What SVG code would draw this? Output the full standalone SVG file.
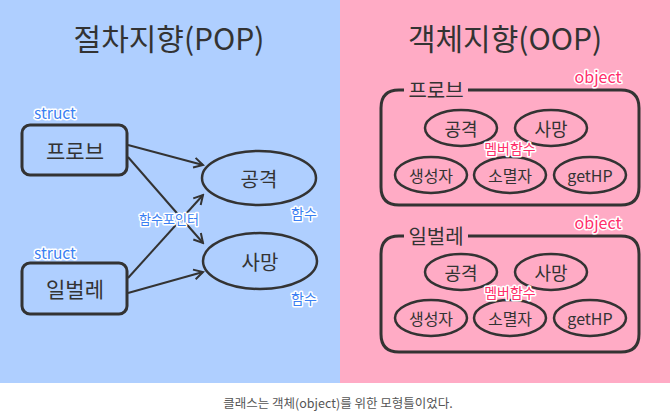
<svg xmlns="http://www.w3.org/2000/svg" width="670" height="414" viewBox="0 0 670 414">
<defs>
<style>
.k{font-family:"Noto Sans CJK KR","Noto Sans",sans-serif;fill:#333;text-anchor:middle;dominant-baseline:central}
.t{font-size:30px}
.bx{fill:none;stroke:#333;stroke-width:3}
.el{fill:none;stroke:#333;stroke-width:2.5}
.ln{fill:none;stroke:#333;stroke-width:2}
.lb{font-family:"Noto Sans CJK KR","Noto Sans",sans-serif;text-anchor:middle;dominant-baseline:central;stroke:#fff;stroke-width:3;paint-order:stroke;stroke-linejoin:round;font-weight:normal}
.bl{fill:#3a7ff2}
.pk{fill:#ff2f6c}
</style>
<marker id="ah" viewBox="0 0 12 12" refX="10" refY="6" markerWidth="12" markerHeight="12" markerUnits="userSpaceOnUse" orient="auto">
<path d="M1,1 L10,6 L1,11" fill="none" stroke="#333" stroke-width="2"/>
</marker>
</defs>
<rect x="0" y="0" width="340" height="383" fill="#afcfff"/>
<rect x="340" y="0" width="330" height="383" fill="#ffabc5"/>
<rect x="0" y="383" width="670" height="31" fill="#fff"/>
<text class="k t" x="169" y="37">절차지향(POP)</text>
<text class="k t" x="505" y="37">객체지향(OOP)</text>
<g id="connectors">
<line class="ln" x1="128" y1="145" x2="203" y2="165" marker-end="url(#ah)"/>
<line class="ln" x1="128" y1="157" x2="203" y2="243" marker-end="url(#ah)"/>
<line class="ln" x1="128" y1="278" x2="203" y2="195" marker-end="url(#ah)"/>
<line class="ln" x1="128" y1="293" x2="203" y2="272" marker-end="url(#ah)"/>
</g>
<g id="probe">
<rect class="bx" x="22" y="125" width="105" height="50" rx="8"/>
<text class="k" x="75" y="150" font-size="21">프로브</text>
<text class="lb bl" x="55" y="112" font-size="15.5">struct</text>
</g>
<g id="ilbeolre">
<rect class="bx" x="22" y="263" width="105" height="51" rx="8"/>
<text class="k" x="75" y="288" font-size="21">일벌레</text>
<text class="lb bl" x="55" y="252" font-size="15.5">struct</text>
</g>
<g id="attack">
<ellipse class="el" cx="259" cy="178" rx="57" ry="27"/>
<text class="k" x="259" y="178" font-size="20">공격</text>
<text class="lb bl" x="304" y="213" font-size="14">함수</text>
</g>
<g id="death">
<ellipse class="el" cx="260" cy="261" rx="57" ry="28"/>
<text class="k" x="260" y="261" font-size="20">사망</text>
<text class="lb bl" x="304" y="298" font-size="14">함수</text>
</g>
<text class="lb bl" x="169" y="218" font-size="13">함수포인터</text>
<g id="obj-probe">
<path class="bx" d="M404,90 L399,90 Q381,90 381,108 L381,187 Q381,205 399,205 L621,205 Q639,205 639,187 L639,108 Q639,90 621,90 L468,90"/>
<text class="k" x="436" y="89" font-size="20">프로브</text>
<text class="lb pk" x="598" y="76" font-size="16">object</text>
<ellipse class="el" cx="461" cy="128" rx="36" ry="18"/>
<text class="k" x="461" y="128" font-size="18">공격</text>
<ellipse class="el" cx="551" cy="128" rx="36" ry="18"/>
<text class="k" x="551" y="128" font-size="18">사망</text>
<ellipse class="el" cx="431" cy="175" rx="36" ry="18"/>
<text class="k" x="431" y="175" font-size="16">생성자</text>
<ellipse class="el" cx="510" cy="175" rx="36" ry="18"/>
<text class="k" x="510" y="175" font-size="16">소멸자</text>
<ellipse class="el" cx="590" cy="175" rx="36" ry="18"/>
<text class="k" x="590" y="175" font-size="16">getHP</text>
<text class="lb pk" x="510" y="148" font-size="14">멤버함수</text>
</g>
<g id="obj-ilbeolre">
<path class="bx" d="M404,236 L399,236 Q381,236 381,254 L381,334 Q381,352 399,352 L621,352 Q639,352 639,334 L639,254 Q639,236 621,236 L468,236"/>
<text class="k" x="436" y="235" font-size="20">일벌레</text>
<text class="lb pk" x="598" y="222" font-size="16">object</text>
<ellipse class="el" cx="461" cy="272" rx="36" ry="18"/>
<text class="k" x="461" y="272" font-size="18">공격</text>
<ellipse class="el" cx="551" cy="272" rx="36" ry="18"/>
<text class="k" x="551" y="272" font-size="18">사망</text>
<ellipse class="el" cx="431" cy="318" rx="36" ry="18"/>
<text class="k" x="431" y="318" font-size="16">생성자</text>
<ellipse class="el" cx="510" cy="318" rx="36" ry="18"/>
<text class="k" x="510" y="318" font-size="16">소멸자</text>
<ellipse class="el" cx="590" cy="318" rx="36" ry="18"/>
<text class="k" x="590" y="318" font-size="16">getHP</text>
<text class="lb pk" x="510" y="292" font-size="14">멤버함수</text>
</g>
<text class="k" x="338" y="402" font-size="12.5" style="fill:#555">클래스는 객체(object)를 위한 모형틀이었다.</text>
</svg>
